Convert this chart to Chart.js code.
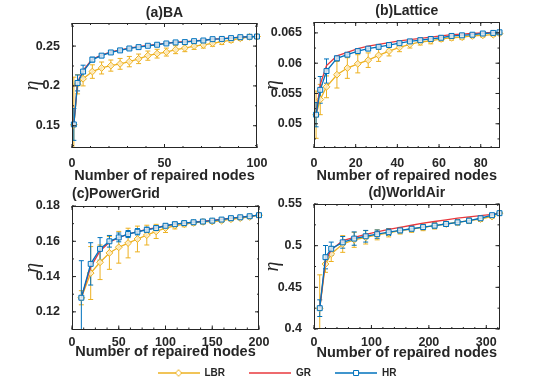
<!DOCTYPE html>
<html>
<head>
<meta charset="utf-8">
<script src="https://cdn.jsdelivr.net/npm/chart.js@4.4.0/dist/chart.umd.min.js"></script>
<style>
    body { margin: 0; background: #fff; }
    #wrap { position: relative; width: 554px; height: 389px; overflow: hidden; }
    canvas { position: absolute; }
</style>
</head>
<body>
<div id="wrap">
    <canvas id="chA" width="277" height="185" style="left:0;top:0"></canvas>
    <canvas id="chB" width="312" height="185" style="left:242px;top:0"></canvas>
    <canvas id="chC" width="277" height="176" style="left:0;top:185px"></canvas>
    <canvas id="chD" width="312" height="177" style="left:242px;top:185px"></canvas>
    <canvas id="chL" width="554" height="60" style="left:0;top:344px"></canvas>
</div>
<script>
// (a) BA
const baX = [1, 3, 6, 11, 16, 21, 26, 31, 36, 41, 46, 51, 56, 61, 66, 71, 76, 81, 86, 91, 96, 100];
const baLBR = [0.151, 0.202, 0.209, 0.218, 0.2225, 0.2255, 0.2277, 0.2305, 0.234, 0.238, 0.2405, 0.2425, 0.2455, 0.2475, 0.25, 0.2515, 0.2535, 0.2555, 0.2575, 0.2598, 0.2615, 0.262];
const baLBRerr = [0.06, 0.012, 0.009, 0.0085, 0.0075, 0.007, 0.0068, 0.0065, 0.006, 0.0058, 0.0055, 0.005, 0.005, 0.0045, 0.0042, 0.004, 0.0038, 0.0035, 0.003, 0.0028, 0.0025, 0.002];
const baGR = [0.1516, 0.2045, 0.2195, 0.2338, 0.2388, 0.2426, 0.2452, 0.2475, 0.2492, 0.2508, 0.2521, 0.2536, 0.2548, 0.2556, 0.2566, 0.2575, 0.2588, 0.2594, 0.2603, 0.2613, 0.2619, 0.2623];
const baHR = [0.1516, 0.2037, 0.218, 0.233, 0.238, 0.242, 0.2446, 0.247, 0.2487, 0.2504, 0.2517, 0.2533, 0.2546, 0.255, 0.2562, 0.257, 0.2587, 0.259, 0.26, 0.2612, 0.2617, 0.262];
const baHRerr = [0.02, 0.01, 0.008, 0.003, 0.002, 0.0018, 0.0015, 0.0015, 0.0013, 0.0012, 0.0012, 0.001, 0.001, 0.001, 0.001, 0.0009, 0.0008, 0.0008, 0.0008, 0.0007, 0.0006, 0.0005];
const baXTicks = [0, 50, 100];
const baYTicks = [0.15, 0.2, 0.25];

// (b) Lattice
const latX = [1, 3, 6, 11, 16, 21, 26, 31, 36, 41, 46, 51, 56, 61, 66, 71, 76, 81, 86, 89];
const latLBR = [0.0515, 0.054, 0.0561, 0.0581, 0.0592, 0.0599, 0.0605, 0.0613, 0.062, 0.0626, 0.0631, 0.0635, 0.0637, 0.064, 0.0642, 0.0643, 0.0645, 0.0646, 0.0647, 0.0649];
const latLBRerr = [0.0039, 0.0025, 0.0018, 0.0022, 0.0017, 0.0015, 0.0012, 0.001, 0.0008, 0.0007, 0.0006, 0.0005, 0.0005, 0.0004, 0.0004, 0.0004, 0.0003, 0.0003, 0.0003, 0.0002];
const latGR = [0.0515, 0.0565, 0.0596, 0.0612, 0.0618, 0.0624, 0.0628, 0.0631, 0.0634, 0.0637, 0.0639, 0.0641, 0.0643, 0.0645, 0.0647, 0.0648, 0.0649, 0.065, 0.0651, 0.0651];
const latHR = [0.0515, 0.0556, 0.0587, 0.0608, 0.0614, 0.062, 0.0624, 0.0627, 0.063, 0.0633, 0.0636, 0.0638, 0.064, 0.0642, 0.0645, 0.0646, 0.0647, 0.0649, 0.065, 0.0651];
const latHRerr = [0.002, 0.0022, 0.002, 0.0004, 0.0003, 0.0003, 0.0003, 0.0002, 0.0002, 0.0002, 0.0002, 0.0002, 0.0002, 0.0002, 0.0001, 0.0001, 0.0001, 0.0001, 0.0001, 0.0001];
const latXTicks = [0, 20, 40, 60, 80];
const latYTicks = [0.05, 0.055, 0.06, 0.065];

// (c) PowerGrid
const pgX = [10, 20, 30, 40, 50, 60, 70, 80, 90, 100, 110, 120, 130, 140, 150, 160, 170, 180, 190, 200];
const pgLBR = [0.128, 0.142, 0.1481, 0.1534, 0.1566, 0.159, 0.1613, 0.1635, 0.1656, 0.1675, 0.1688, 0.1697, 0.1704, 0.171, 0.1712, 0.1717, 0.1725, 0.1731, 0.1738, 0.1748];
const pgLBRerr = [0.004, 0.015, 0.0098, 0.0093, 0.009, 0.0084, 0.0073, 0.0056, 0.004, 0.0025, 0.0018, 0.0015, 0.0012, 0.0012, 0.001, 0.001, 0.0009, 0.0008, 0.0007, 0.0005];
const pgGR = [0.128, 0.1455, 0.1545, 0.1595, 0.162, 0.164, 0.1655, 0.1667, 0.1677, 0.1688, 0.1697, 0.1703, 0.1709, 0.1714, 0.1719, 0.1725, 0.1731, 0.1737, 0.1743, 0.1748];
const pgHR = [0.128, 0.1472, 0.1557, 0.16, 0.1622, 0.1641, 0.1654, 0.1665, 0.1675, 0.1688, 0.1697, 0.1703, 0.1708, 0.1712, 0.1717, 0.1723, 0.1731, 0.1736, 0.1742, 0.1748];
const pgHRerr = [0.021, 0.012, 0.0064, 0.0033, 0.0025, 0.002, 0.0018, 0.0015, 0.0012, 0.001, 0.001, 0.0009, 0.0008, 0.0008, 0.0007, 0.0007, 0.0006, 0.0006, 0.0005, 0.0004];
const pgXTicks = [0, 50, 100, 150, 200];
const pgYTicks = [0.12, 0.14, 0.16, 0.18];

// (d) WorldAir
const waX = [10, 20, 30, 50, 70, 90, 110, 130, 150, 170, 190, 210, 230, 250, 270, 290, 310, 323];
const waLBR = [0.425, 0.478, 0.49, 0.502, 0.507, 0.51, 0.513, 0.5155, 0.518, 0.52, 0.522, 0.524, 0.526, 0.528, 0.53, 0.532, 0.535, 0.539];
const waLBRerr = [0.04, 0.01, 0.009, 0.01, 0.009, 0.008, 0.006, 0.005, 0.004, 0.004, 0.004, 0.004, 0.003, 0.003, 0.003, 0.003, 0.002, 0.001];
const waGR = [0.425, 0.482, 0.495, 0.506, 0.51, 0.5135, 0.5165, 0.5195, 0.522, 0.5245, 0.527, 0.529, 0.531, 0.533, 0.5345, 0.536, 0.5375, 0.539];
const waHR = [0.425, 0.4862, 0.4963, 0.504, 0.5085, 0.5113, 0.5138, 0.5162, 0.5183, 0.5203, 0.5223, 0.524, 0.526, 0.528, 0.53, 0.5329, 0.5366, 0.539];
const waHRerr = [0.01, 0.014, 0.008, 0.007, 0.008, 0.007, 0.005, 0.004, 0.003, 0.003, 0.003, 0.003, 0.003, 0.003, 0.003, 0.002, 0.002, 0.001];
const waXTicks = [0, 100, 200, 300];
const waYTicks = [0.4, 0.45, 0.5, 0.55];

const LBR_COLOR = '#EDB120';
const GR_COLOR = '#E8383D';
const HR_COLOR = '#0072BD';
const INK = '#262626';
const FONT = "'Liberation Sans', Arial, Helvetica, sans-serif";

let pts = (xs, ys) => xs.map((x, i) => ({x: x, y: ys[i]}));

// vertical error bars with caps, placed through the chart scales
const errorBars = {
    id: 'errorBars',
    beforeDatasetsDraw(chart) {
        const {ctx, chartArea: a, scales: {x, y}} = chart;
        ctx.save();
        ctx.beginPath();
        ctx.rect(a.left, a.top, a.right - a.left, a.bottom - a.top);
        ctx.clip();
        chart.data.datasets.forEach(ds => {
            if (!ds.errors) return;
            ctx.strokeStyle = ds.borderColor;
            ctx.lineWidth = 1;
            ds.data.forEach((p, i) => {
                let px = x.getPixelForValue(p.x);
                let top = y.getPixelForValue(p.y + ds.errors[i]);
                let bot = y.getPixelForValue(p.y - ds.errors[i]);
                ctx.beginPath();
                ctx.moveTo(px, top); ctx.lineTo(px, bot);
                ctx.moveTo(px - 2.5, top); ctx.lineTo(px + 2.5, top);
                ctx.moveTo(px - 2.5, bot); ctx.lineTo(px + 2.5, bot);
                ctx.stroke();
            });
        });
        ctx.restore();
    }
};

// matlab style box with inward ticks on all four sides
const boxTicks = {
    id: 'boxTicks',
    afterDraw(chart, args, opts) {
        const {ctx, chartArea: a, scales: {x, y}} = chart;
        ctx.save();
        ctx.strokeStyle = INK;
        ctx.lineWidth = 1;
        ctx.strokeRect(Math.round(a.left) + 0.5, Math.round(a.top) + 0.5,
            Math.round(a.right - a.left) - 1, Math.round(a.bottom - a.top) - 1);
        ctx.beginPath();
        let xMark = (v, len) => {
            let p = x.getPixelForValue(v);
            ctx.moveTo(p, a.bottom); ctx.lineTo(p, a.bottom - len);
            ctx.moveTo(p, a.top); ctx.lineTo(p, a.top + len);
        };
        let yMark = (v, len) => {
            let p = y.getPixelForValue(v);
            ctx.moveTo(a.left, p); ctx.lineTo(a.left + len, p);
            ctx.moveTo(a.right, p); ctx.lineTo(a.right - len, p);
        };
        for (let v = Math.ceil(x.min / opts.xMinor) * opts.xMinor; v <= x.max + 1e-9; v += opts.xMinor) xMark(v, 2);
        for (let v = Math.ceil(y.min / opts.yMinor) * opts.yMinor; v <= y.max + 1e-9; v += opts.yMinor) yMark(v, 2);
        x.ticks.forEach(t => xMark(t.value, 4));
        y.ticks.forEach(t => yMark(t.value, 4));
        ctx.stroke();
        ctx.restore();
    }
};

let panel = (id, p) => new Chart(id, {
    type: 'line',
    data: {
        datasets: [{
            label: 'LBR',
            data: pts(p.x, p.lbr),
            errors: p.lbrErr,
            borderColor: LBR_COLOR,
            borderWidth: 1.3,
            pointStyle: 'rectRot',
            pointRadius: 3.4,
            pointBorderWidth: 1,
            pointBorderColor: LBR_COLOR,
            pointBackgroundColor: 'rgba(255, 240, 205, 0.85)',
            order: 3
        }, {
            label: 'GR',
            data: pts(p.x, p.gr),
            borderColor: GR_COLOR,
            borderWidth: 1.3,
            pointRadius: 0,
            order: 2
        }, {
            label: 'HR',
            data: pts(p.x, p.hr),
            errors: p.hrErr,
            borderColor: HR_COLOR,
            borderWidth: 1.3,
            pointStyle: 'rect',
            pointRadius: 3.5,
            pointBorderWidth: 1,
            pointBorderColor: HR_COLOR,
            pointBackgroundColor: 'rgba(225, 236, 246, 0.85)',
            order: 1
        }]
    },
    options: {
        responsive: false,
        animation: false,
        clip: false,
        layout: {padding: {left: 0, top: 0, right: p.padRight, bottom: 0}},
        plugins: {
            legend: {display: false},
            tooltip: {enabled: false},
            title: {
                display: true,
                text: p.title,
                fullSize: false,
                align: p.titleAlign,
                color: INK,
                font: {family: FONT, size: 14, weight: 'bold'},
                padding: p.titlePad
            },
            boxTicks: {xMinor: p.xMinor, yMinor: p.yMinor}
        },
        scales: {
            x: {
                type: 'linear',
                min: 0,
                max: p.xMax,
                grid: {display: false},
                border: {display: false},
                afterBuildTicks: s => { s.ticks = p.xTicks.map(v => ({value: v})); },
                afterFit: s => { s.height = p.xAxisH; s.paddingLeft = 0; s.paddingRight = 0; },
                ticks: {
                    padding: p.xTickPad,
                    autoSkip: false,
                    maxRotation: 0,
                    color: INK,
                    font: {family: FONT, size: 12.5, weight: 'bold'},
                    callback: v => String(v)
                },
                title: {
                    display: true,
                    text: 'Number of repaired nodes',
                    color: INK,
                    font: {family: FONT, size: 14.5, weight: 'bold'},
                    padding: 0
                }
            },
            y: {
                type: 'linear',
                min: p.yMin,
                max: p.yMax,
                grid: {display: false},
                border: {display: false},
                afterBuildTicks: s => { s.ticks = p.yTicks.map(v => ({value: v})); },
                afterFit: s => { s.width = 72; s.paddingTop = 0; s.paddingBottom = 0; },
                ticks: {
                    padding: 4,
                    color: INK,
                    font: {family: FONT, size: 12.5, weight: 'bold'},
                    callback: v => String(v)
                },
                title: {
                    display: true,
                    text: 'η',
                    color: INK,
                    font: {family: "'Liberation Serif', 'DejaVu Serif', serif", size: 20, style: 'italic'},
                    padding: {top: p.etaPad, bottom: 0}
                }
            }
        }
    },
    plugins: [errorBars, boxTicks]
});

panel('chA', {
    title: '(a)BA', titleAlign: 'center', titlePad: {top: 4.6, bottom: 1.6},
    x: baX, lbr: baLBR, lbrErr: baLBRerr, gr: baGR, hr: baHR, hrErr: baHRerr,
    xMax: 100, xTicks: baXTicks, xMinor: 10, yMin: 0.122, yMax: 0.279, yTicks: baYTicks, yMinor: 0.025,
    padRight: 20, xAxisH: 37, xTickPad: 0.5, etaPad: 21
});
panel('chB', {
    title: '(b)Lattice', titleAlign: 'center', titlePad: {top: 2.6, bottom: 2.6},
    x: latX, lbr: latLBR, lbrErr: latLBRerr, gr: latGR, hr: latHR, hrErr: latHRerr,
    xMax: 89, xTicks: latXTicks, xMinor: 5, yMin: 0.046, yMax: 0.0668, yTicks: latYTicks, yMinor: 0.0025,
    padRight: 54.5, xAxisH: 37, xTickPad: 0.5, etaPad: 19
});
panel('chC', {
    title: '(c)PowerGrid', titleAlign: 'start', titlePad: {top: 0.9, bottom: 3.3},
    x: pgX, lbr: pgLBR, lbrErr: pgLBRerr, gr: pgGR, hr: pgHR, hrErr: pgHRerr,
    xMax: 200, xTicks: pgXTicks, xMinor: 12.5, yMin: 0.11, yMax: 0.18, yTicks: pgYTicks, yMinor: 0.01,
    padRight: 18, xAxisH: 31.5, xTickPad: -2, etaPad: 21
});
panel('chD', {
    title: '(d)WorldAir', titleAlign: 'center', titlePad: {top: 0, bottom: 2.2},
    x: waX, lbr: waLBR, lbrErr: waLBRerr, gr: waGR, hr: waHR, hrErr: waHRerr,
    xMax: 323, xTicks: waXTicks, xMinor: 20, yMin: 0.4, yMax: 0.55, yTicks: waYTicks, yMinor: 0.025,
    padRight: 54.5, xAxisH: 33, xTickPad: -1.5, etaPad: 19
});

// legend swatches: short line with the series marker in the middle
let swatch = (color, marker) => {
    let c = document.createElement('canvas');
    c.width = 42;
    c.height = 10;
    let g = c.getContext('2d');
    g.strokeStyle = color;
    g.lineWidth = 1.3;
    g.beginPath();
    g.moveTo(0, 5); g.lineTo(42, 5);
    g.stroke();
    g.lineWidth = 1;
    g.fillStyle = '#fff';
    g.beginPath();
    if (marker === 'diamond') {
        g.moveTo(21, 1.6); g.lineTo(24, 5); g.lineTo(21, 8.4); g.lineTo(18, 5); g.closePath();
    } else if (marker === 'square') {
        g.rect(18.5, 2.5, 5, 5);
    }
    if (marker) { g.fill(); g.stroke(); }
    return c;
};

const legendNames = ['LBR', 'GR', 'HR'];
const legendMarks = [swatch(LBR_COLOR, 'diamond'), swatch(GR_COLOR, null), swatch(HR_COLOR, 'square')];

new Chart('chL', {
    type: 'line',
    data: {datasets: legendNames.map(n => ({label: n, data: []}))},
    options: {
        responsive: false,
        animation: false,
        layout: {padding: 0},
        scales: {x: {display: false}, y: {display: false}},
        plugins: {
            tooltip: {enabled: false},
            legend: {
                display: true,
                position: 'top',
                maxHeight: 60,
                labels: {
                    usePointStyle: true,
                    pointStyleWidth: 42,
                    boxHeight: 10,
                    padding: 24,
                    color: INK,
                    font: {family: FONT, size: 10, weight: 'bold'},
                    generateLabels: chart => chart.data.datasets.map((ds, i) => ({
                        text: ds.label,
                        pointStyle: legendMarks[i],
                        datasetIndex: i,
                        fontColor: INK,
                        fillStyle: 'transparent',
                        strokeStyle: 'transparent',
                        lineWidth: 0
                    }))
                }
            }
        }
    }
});
</script>
</body>
</html>
